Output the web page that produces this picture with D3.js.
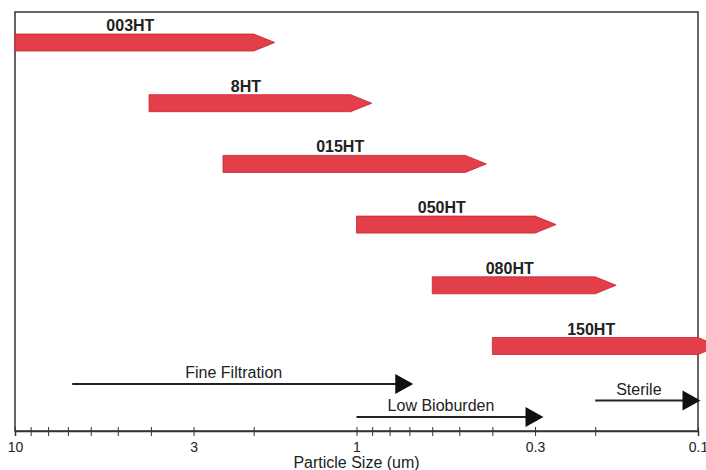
<!DOCTYPE html>
<html lang="en">
<head>
<meta charset="UTF-8" />
<title>Particle Size Ranges</title>
<script src="https://d3js.org/d3.v7.min.js"></script>
<style>
    body { margin: 0; background: #fff; font-family: Arial, "Liberation Sans", sans-serif; }
    svg { display: block; }
</style>
</head>
<body>
<svg id="chart" width="706" height="470"></svg>
<script>
    // filter grades: where the retention range starts and ends (um)
    var grades = ["003HT", "8HT", "015HT", "050HT", "080HT", "150HT"];
    var gradeFrom = [10, 4.05, 2.46, 1.0, 0.6, 0.4];
    var gradeTo = [2.0, 1.04, 0.48, 0.3, 0.2, 0.1];

    // application ranges
    var uses = ["Fine Filtration", "Sterile", "Low Bioburden"];
    var useFrom = [6.8, 0.2, 1.0];
    var useTo = [0.77, 0.111, 0.32];

    var tickVals = [10, 9, 8, 7, 6, 5, 4, 3, 2, 1, 0.9, 0.8, 0.7, 0.6, 0.5, 0.4, 0.3, 0.2, 0.1];
    var tickLabels = [10, 3, 1, 0.3, 0.1];

    var svg = d3.select("#chart");
    var mLeft = 15, mRight = 698, mTop = 12, axisY = 431;

    var x = d3.scaleLog().domain([10, 0.1]).range([mLeft, mRight]);
    var yBar = d3.scalePoint().domain(grades).range([42.5, 346]);
    var yUse = d3.scalePoint().domain(uses).range([384, 417]);

    // frame
    svg.append("rect")
        .attr("x", mLeft).attr("y", mTop)
        .attr("width", mRight - mLeft).attr("height", axisY - mTop)
        .attr("fill", "none")
        .attr("stroke", "#333")
        .attr("stroke-width", 1.5);

    // red grade arrows
    var barH = 17, head = 21;
    grades.forEach(function (g, i) {
        var x0 = x(gradeFrom[i]), x1 = x(gradeTo[i]), cy = yBar(g);
        var pts = [[x0, cy - barH / 2], [x1, cy - barH / 2], [x1 + head, cy],
                   [x1, cy + barH / 2], [x0, cy + barH / 2]];
        svg.append("polygon")
            .attr("points", pts.map(p => p.join(",")).join(" "))
            .attr("fill", "#e33f49")
            .attr("stroke", "#c9212f")
            .attr("stroke-width", 0.8);
        svg.append("text")
            .attr("x", (x0 + x1) / 2 - 4)
            .attr("y", cy - barH / 2 - 3)
            .attr("text-anchor", "middle")
            .style("font-size", "16px")
            .style("font-weight", "bold")
            .attr("fill", "#222")
            .text(g);
    });

    // black application arrows
    var aLen = 18, aH = 20;
    uses.forEach(function (u, i) {
        var x0 = x(useFrom[i]), x1 = x(useTo[i]), cy = yUse(u);
        svg.append("line")
            .attr("x1", x0).attr("x2", x1 + 1)
            .attr("y1", cy).attr("y2", cy)
            .attr("stroke", "#222")
            .attr("stroke-width", 2);
        svg.append("polygon")
            .attr("points", [[x1, cy - aH / 2], [x1 + aLen, cy], [x1, cy + aH / 2]].map(p => p.join(",")).join(" "))
            .attr("fill", "#111");
        svg.append("text")
            .attr("x", (x0 + x1) / 2)
            .attr("y", cy - 6)
            .attr("text-anchor", "middle")
            .style("font-size", "16px")
            .attr("fill", "#222")
            .text(u);
    });

    // x axis
    var axis = d3.axisBottom(x)
        .tickValues(tickVals)
        .tickSize(5)
        .tickPadding(6)
        .tickFormat(d => tickLabels.indexOf(d) >= 0 ? d : "");

    var gx = svg.append("g")
        .attr("transform", "translate(0," + axisY + ")")
        .call(axis);
    gx.select(".domain").attr("stroke", "#333").attr("stroke-width", 1.5);
    gx.selectAll(".tick line").attr("y1", -4).attr("y2", 5).attr("stroke", "#333");
    gx.selectAll(".tick text")
        .style("font-size", "14px")
        .style("font-family", "Arial, 'Liberation Sans', sans-serif")
        .attr("fill", "#222");

    svg.append("text")
        .attr("x", (mLeft + mRight) / 2)
        .attr("y", 468)
        .attr("text-anchor", "middle")
        .style("font-size", "16px")
        .attr("fill", "#222")
        .text("Particle Size (um)");
</script>
</body>
</html>
